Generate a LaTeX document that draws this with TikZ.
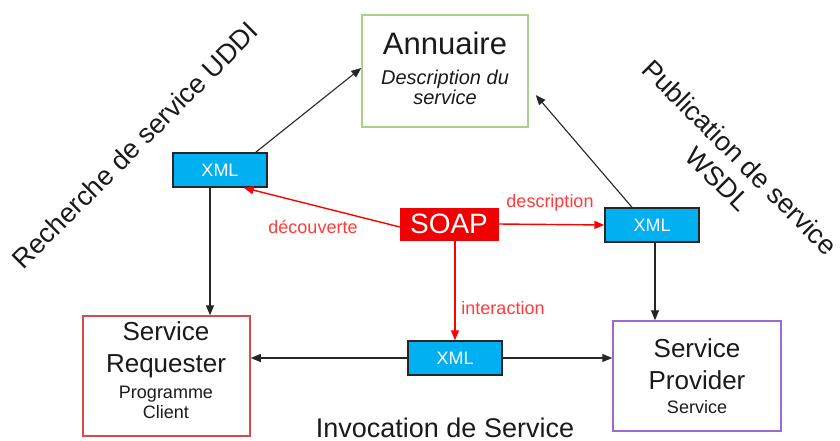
\documentclass[tikz,border=0pt]{standalone}
\usepackage{fontspec}
\setmainfont{Liberation Sans}
\usetikzlibrary{arrows.meta,calc}
\definecolor{xmlblue}{HTML}{00B0F0}
\definecolor{soapred}{HTML}{F00000}
\definecolor{lblred}{HTML}{FF3B3B}
\definecolor{annugreen}{HTML}{A6D388}
\definecolor{reqred}{HTML}{D9484A}
\definecolor{provpurple}{HTML}{9B6BD0}
\definecolor{txt}{HTML}{1A1A1A}
\begin{document}
\begin{tikzpicture}[x=1pt,y=-1pt,
  fs/.style={font=\fontsize{#1}{#1}\selectfont},
  box/.style={draw, line width=1.5pt, inner sep=0pt},
  xmlbox/.style={draw=black!85, line width=1.4pt, fill=xmlblue, minimum width=94pt, minimum height=34pt, inner sep=0pt, text=white, fs=18},
  txtnode/.style={inner sep=0pt, text=txt, anchor=base},
  blk/.style={draw=black!85, line width=1.1pt, -{Triangle[length=10pt,width=8pt]}},
  redarr/.style={draw=red, line width=1.4pt, -{Triangle[length=10pt,width=8pt]}},
  redlbl/.style={inner sep=0pt, text=lblred, fs=18, anchor=base}
]
\useasboundingbox (0,0) rectangle (840,441);

% boxes
\node[box, draw=annugreen, minimum width=166pt, minimum height=112pt] (annu) at (445,71) {};
\node[box, draw=reqred, minimum width=167pt, minimum height=120pt] (req) at (166.5,376) {};
\node[box, draw=provpurple, minimum width=168pt, minimum height=110pt] (prov) at (697,376) {};
\node[xmlbox] (xmlL) at (220,170) {XML};
\node[xmlbox] (xmlR) at (652,225) {XML};
\node[xmlbox] (xmlM) at (455,358) {XML};
\node[fill=soapred, draw=soapred, minimum width=98pt, minimum height=32pt, inner sep=0pt, text=white, fs=28] (soap) at (449,224) {SOAP};

% box texts
\node[txtnode, fs=31] (annuT) at (445,55) {Annuaire};
\node[txtnode, font=\fontsize{20}{20}\selectfont\itshape] (annuD1) at (445,85) {Description du};
\node[txtnode, font=\fontsize{20}{20}\selectfont\itshape] (annuD2) at (445,105) {service};

\node[txtnode, fs=26] (reqT1) at (166,340) {Service};
\node[txtnode, fs=26] (reqT2) at (166,372) {Requester};
\node[txtnode, fs=18] (reqT3) at (166,398) {Programme};
\node[txtnode, fs=18] (reqT4) at (166,418) {Client};

\node[txtnode, fs=26] (provT1) at (697,357) {Service};
\node[txtnode, fs=26] (provT2) at (697,389) {Provider};
\node[txtnode, fs=18] (provT3) at (697,413) {Service};

% black connectors
\draw[blk] ([xshift=-12pt]xmlL.north east) -- ([yshift=3pt]annu.west);
\draw[blk] ([xshift=-20pt]xmlR.north) -- ($(annu.east)+(7,24)$);
\draw[blk] ([xshift=-10pt]xmlL.south) -- ([xshift=-10pt]xmlL.south |- req.north);
\draw[blk] ([xshift=3pt]xmlR.south) -- ([xshift=3pt]xmlR.south |- prov.north);
\draw[blk] (xmlM.west) -- (xmlM.west -| req.east);
\draw[blk] (xmlM.east) -- (xmlM.east -| prov.west);

% red connectors
\draw[redarr] ([yshift=-3pt]soap.west) -- ([xshift=-24pt]xmlL.south east);
\draw[redarr] (soap.east) -- (xmlR.west);
\draw[redarr] (soap.south -| xmlM.north) -- (xmlM.north);

% red labels
\node[redlbl] (lblDec) at (313,233) {découverte};
\node[redlbl] (lblDesc) at (550,207) {description};
\node[redlbl] (lblInt) at (503,314) {interaction};

% side labels
\node[inner sep=0pt, text=txt, fs=27, rotate=45] (recherche) at (135,145) {Recherche de service UDDI};
\node[inner sep=0pt, text=txt, align=center, rotate=-45, font=\fontsize{27}{31}\selectfont] (publication) at (729,168) {Publication de service\\WSDL};
\node[txtnode, fs=27] (invocation) at (445,437) {Invocation de Service};
\end{tikzpicture}
\end{document}
